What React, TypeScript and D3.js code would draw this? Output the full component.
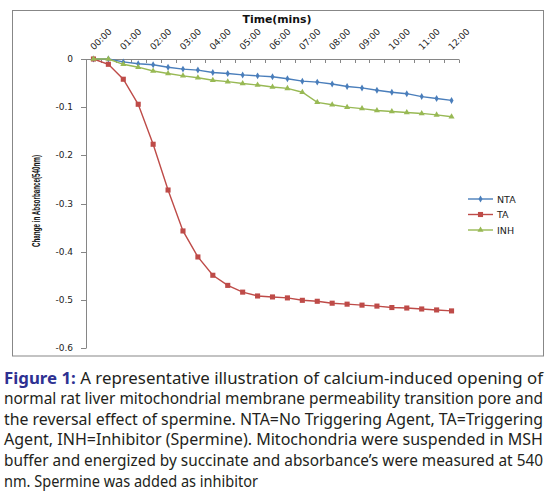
import React from "react";
import * as d3 from "d3";

const categories = [
  "00:00", "00:30", "01:00", "01:30", "02:00", "02:30", "03:00", "03:30", "04:00",
  "04:30", "05:00", "05:30", "06:00", "06:30", "07:00", "07:30", "08:00", "08:30",
  "09:00", "09:30", "10:00", "10:30", "11:00", "11:30", "12:00",
];
const tickLabels = [
  "00:00", "01:00", "02:00", "03:00", "04:00", "05:00", "06:00",
  "07:00", "08:00", "09:00", "10:00", "11:00", "12:00",
];
const ntaValues = [
  0, 0, -0.006, -0.01, -0.012, -0.017, -0.021, -0.023, -0.028, -0.03, -0.033, -0.035,
  -0.037, -0.041, -0.046, -0.048, -0.052, -0.057, -0.06, -0.065, -0.069, -0.072,
  -0.078, -0.082, -0.086,
];
const taValues = [
  0, -0.011, -0.042, -0.094, -0.177, -0.272, -0.357, -0.411, -0.449, -0.47, -0.484,
  -0.492, -0.494, -0.496, -0.501, -0.503, -0.507, -0.509, -0.511, -0.513, -0.516,
  -0.517, -0.519, -0.521, -0.523,
];
const inhValues = [
  0, 0, -0.011, -0.017, -0.025, -0.03, -0.035, -0.039, -0.044, -0.047, -0.051, -0.054,
  -0.058, -0.061, -0.069, -0.09, -0.095, -0.1, -0.103, -0.107, -0.109, -0.111,
  -0.113, -0.116, -0.12,
];
const seriesNames = ["NTA", "TA", "INH"];
const yTicks = [0, -0.1, -0.2, -0.3, -0.4, -0.5, -0.6];
const captionLines = [
  "A representative illustration of calcium-induced opening of",
  "normal rat liver mitochondrial membrane permeability transition pore and",
  "the reversal effect of spermine. NTA=No Triggering Agent, TA=Triggering",
  "Agent, INH=Inhibitor (Spermine). Mitochondria were suspended in MSH",
  "buffer and energized by succinate and absorbance\u2019s were measured at 540",
  "nm. Spermine was added as inhibitor",
];

const COLORS = ["#4A7EBB", "#BE4B48", "#98B954"];
const SYMBOLS = [d3.symbolDiamond, d3.symbolSquare, d3.symbolTriangle];
const SYMSIZE = [14, 26, 16];

export default function App() {
  const x = d3.scaleBand<string>().domain(categories).range([86, 459]).padding(0);
  const y = d3.scaleLinear().domain([0, -0.6]).range([59, 348]);
  const cx = (c: string) => (x(c) as number) + x.bandwidth() / 2;
  const data = [ntaValues, taValues, inhValues];
  const line = d3
    .line<number>()
    .x((_, i) => cx(categories[i]))
    .y((v) => y(v));
  const tickFont = "'DejaVu Sans', Verdana, sans-serif";
  const boundaries = categories.map((c) => x(c) as number).concat([459]);
  const captionFont = "'Noto Sans', 'Open Sans', sans-serif";
  const legendY = [199, 214.5, 230];

  return (
    <svg
      width={550}
      height={495}
      style={{ position: "absolute", left: 0, top: 0, background: "#fff" }}
    >
      <rect x={0} y={0} width={550} height={495} fill="#fff" />
      <rect x={12.5} y={10.5} width={531} height={345.5} fill="none" stroke="#878787" strokeWidth={1} />

      {/* x axis title */}
      <text x={277} y={23} textAnchor="middle" fontFamily={tickFont} fontWeight="bold" fontSize={10} fill="#111" textLength={69} lengthAdjust="spacingAndGlyphs">
        Time(mins)
      </text>

      {/* x axis */}
      <line x1={86} x2={459} y1={59.5} y2={59.5} stroke="#868686" />
      {boundaries.map((b, i) => (
        <line key={i} x1={Math.round(b) + 0.5} x2={Math.round(b) + 0.5} y1={59.5} y2={63} stroke="#868686" />
      ))}
      {tickLabels.map((t) => (
        <text
          key={t}
          transform={`translate(${cx(t) + 0.5},${50.5}) rotate(-45)`}
          fontFamily={tickFont}
          fontSize={9}
          fill="#222"
        >
          {t}
        </text>
      ))}

      {/* y axis */}
      <line x1={86.5} x2={86.5} y1={59} y2={348} stroke="#868686" />
      {yTicks.map((t) => (
        <g key={t}>
          <line x1={81} x2={86.5} y1={Math.round(y(t)) + 0.5} y2={Math.round(y(t)) + 0.5} stroke="#868686" />
          <text x={73} y={y(t) + 3} textAnchor="end" fontFamily={tickFont} fontSize={9} fill="#222">
            {t === 0 ? "0" : t.toFixed(1)}
          </text>
        </g>
      ))}
      <text
        transform={`translate(39.5,201) rotate(-90)`}
        textAnchor="middle"
        fontFamily="'Liberation Sans', Arial, sans-serif"
        fontWeight="bold"
        fontSize={10.5}
        fill="#111"
        textLength={92}
        lengthAdjust="spacingAndGlyphs"
      >
        Change in Absorbance(540nm)
      </text>

      {/* series */}
      {data.map((vals, s) => (
        <g key={s}>
          <path d={line(vals) || ""} fill="none" stroke={COLORS[s]} strokeWidth={1.4} />
          {vals.map((v, i) => (
            <path
              key={i}
              d={d3.symbol(SYMBOLS[s], SYMSIZE[s])() || ""}
              transform={`translate(${cx(categories[i])},${y(v)})`}
              fill={COLORS[s]}
            />
          ))}
        </g>
      ))}

      {/* legend */}
      {seriesNames.map((n, s) => (
        <g key={n}>
          <line x1={468} x2={493} y1={legendY[s]} y2={legendY[s]} stroke={COLORS[s]} strokeWidth={1.4} />
          <path d={d3.symbol(SYMBOLS[s], SYMSIZE[s])() || ""} transform={`translate(480.5,${legendY[s]})`} fill={COLORS[s]} />
          <text x={497} y={legendY[s] + 3.5} fontFamily={tickFont} fontSize={9.5} fill="#222">
            {n}
          </text>
        </g>
      ))}

      {/* caption */}
      <text x={4} y={383.5} fontFamily={captionFont} fontSize={15.5} fill="#231f20" textLength={539} lengthAdjust="spacingAndGlyphs">
        <tspan fontWeight="bold" fill="#2E3192">Figure 1:</tspan> {captionLines[0]}
      </text>
      {captionLines.slice(1).map((l, i) => (
        <text
          key={i}
          x={4}
          y={383.5 + (i + 1) * 20.65}
          fontFamily={captionFont}
          fontSize={15.5}
          fill="#231f20"
          textLength={i === 4 ? 254 : 539}
          lengthAdjust="spacingAndGlyphs"
        >
          {l}
        </text>
      ))}
    </svg>
  );
}
